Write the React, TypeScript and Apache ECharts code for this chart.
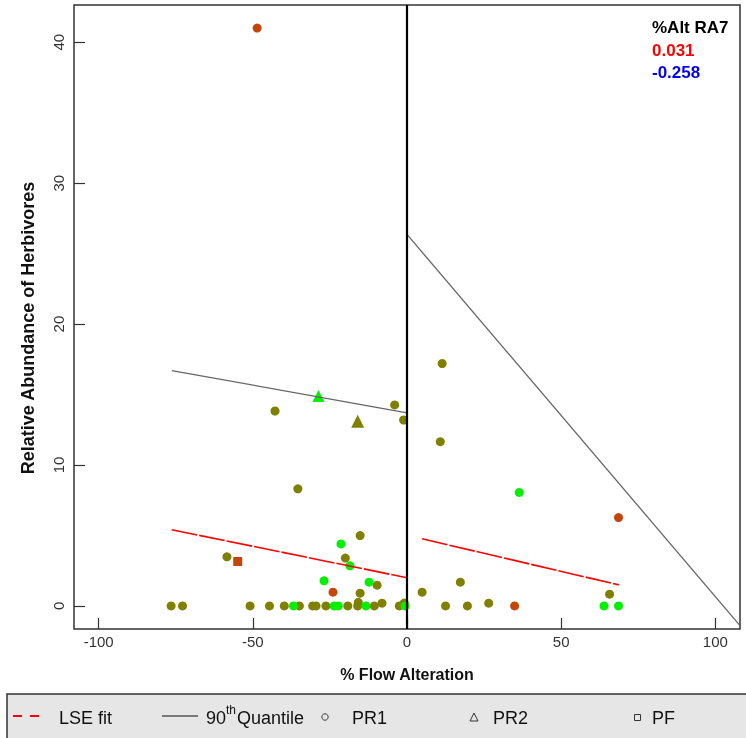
import React, { useEffect, useRef } from "react";
import * as echarts from "echarts";

// ---- data ----
const xRange = [-108, 108];
const yRange = [-1.64, 42.64];

const pr1Olive: [number, number][] = [
  [-42.8, 13.83], [-4.0, 14.26], [-1.1, 13.19], [-35.4, 8.31], [11.4, 17.2], [10.8, 11.65],
  [17.3, 1.68], [4.9, 0.97], [26.5, 0.19], [65.7, 0.83], [-58.4, 3.48], [-15.2, 4.99],
  [-20.0, 3.39], [-9.7, 1.47], [-15.2, 0.9], [-15.8, 0.25], [-8.1, 0.19], [-0.9, 0.2],
  [-76.5, 0], [-72.8, 0], [-50.9, 0], [-44.6, 0], [-39.8, 0], [-34.9, 0], [-30.6, 0],
  [-29.5, 0], [-26.3, 0], [-19.2, 0], [-16.0, 0], [-10.6, 0], [-2.5, 0], [12.5, 0], [19.6, 0],
];
const pr1Green: [number, number][] = [
  [-21.4, 4.4], [-18.5, 2.84], [-26.9, 1.78], [-12.3, 1.68], [36.4, 8.05],
  [-36.8, 0], [-23.6, 0], [-22.3, 0], [-13.3, 0], [-0.6, 0], [63.9, 0], [68.6, 0],
];
const pr1Orange: [number, number][] = [
  [-48.6, 41.0], [68.6, 6.27], [-24.0, 0.97], [34.9, 0],
];
const pr2Green: [number, number][] = [[-28.7, 14.9]];
const pr2Olive: [number, number][] = [[-16.0, 13.1]];
const pfOrange: [number, number][] = [[-54.9, 3.15]];

const lseLeft: [number, number][] = [[-76.3, 5.4], [0, 2.0]];
const lseRight: [number, number][] = [[4.9, 4.76], [68.7, 1.49]];
const q90Left: [number, number][] = [[-76.3, 16.7], [0, 13.7]];
const q90Right: [number, number][] = [[0, 26.36], [108, -1.4]];
const zeroLine: [number, number][] = [[0, yRange[0]], [0, yRange[1]]];

const statLabels = ["%Alt RA7", "0.031", "-0.258"];

const OLIVE = "#808000";
const GREEN = "#00f000";
const ORANGE = "#c4460a";
const FONT = '"Liberation Sans", Arial, sans-serif';

export default function App() {
  const ref = useRef<HTMLDivElement>(null);
  useEffect(() => {
    if (!ref.current) return;
    const chart = echarts.init(ref.current, null, { renderer: "svg" });
    const scatter = (data: [number, number][], color: string, symbol: string, size: number) => ({
      type: "scatter",
      data,
      symbol,
      symbolSize: size,
      itemStyle: { color, opacity: 1 },
      z: 2,
    });
    const line = (data: [number, number][], color: string, width: number, type: any) => ({
      type: "line",
      data,
      symbol: "none",
      lineStyle: { color, width, type },
      z: 3,
    });
    const legendY = 718;
    chart.setOption({
      animation: false,
      textStyle: { fontFamily: FONT },
      grid: {
        left: 74, top: 5, right: 6, bottom: 109,
        show: true, borderColor: "#333", borderWidth: 1.5, containLabel: false,
      },
      xAxis: {
        type: "value", min: xRange[0], max: xRange[1], splitNumber: 5,
        name: "% Flow Alteration", nameLocation: "middle", nameGap: 37,
        nameTextStyle: { fontSize: 16, fontWeight: "bold", color: "#111", fontFamily: FONT },
        axisLine: { show: false, onZero: false },
        axisTick: { show: true, inside: true, length: 11, lineStyle: { color: "#333", width: 1.2 } },
        axisLabel: { showMinLabel: false, showMaxLabel: false, fontSize: 15, color: "#333", margin: 5, fontFamily: FONT },
        splitLine: { show: false },
      },
      yAxis: {
        type: "value", min: yRange[0], max: yRange[1], splitNumber: 5,
        axisLine: { show: false, onZero: false },
        axisTick: { show: true, inside: true, length: 11, lineStyle: { color: "#333", width: 1.2 } },
        axisLabel: { showMinLabel: false, showMaxLabel: false, rotate: 90, fontSize: 15, color: "#333", margin: 8, fontFamily: FONT },
        splitLine: { show: false },
      },
      series: [
        scatter(pr1Olive, OLIVE, "circle", 9),
        scatter(pr1Green, GREEN, "circle", 9),
        scatter(pr1Orange, ORANGE, "circle", 9),
        scatter(pr2Green, GREEN, "triangle", 12),
        scatter(pr2Olive, OLIVE, "triangle", 13),
        scatter(pfOrange, ORANGE, "rect", 9),
        line(q90Left, "#666", 1.3, "solid"),
        line(q90Right, "#666", 1.3, "solid"),
        line(lseLeft, "#ff0000", 1.6, [26, 2]),
        line(lseRight, "#ff0000", 1.6, [26, 2]),
        line(zeroLine, "#000", 2.2, "solid"),
      ],
      graphic: [
        { type: "text", x: 28, y: 328, rotation: Math.PI / 2, style: { text: "Relative Abundance of Herbivores", fontSize: 18, fontWeight: "bold", fontFamily: FONT, fill: "#111", align: "center", verticalAlign: "middle" } },
        { type: "text", x: 652, y: 27, style: { text: statLabels[0], fontSize: 17, fontWeight: "bold", fontFamily: FONT, fill: "#000", verticalAlign: "middle" } },
        { type: "text", x: 652, y: 50, style: { text: statLabels[1], fontSize: 17, fontWeight: "bold", fontFamily: FONT, fill: "#ff0000", verticalAlign: "middle" } },
        { type: "text", x: 652, y: 72, style: { text: statLabels[2], fontSize: 17, fontWeight: "bold", fontFamily: FONT, fill: "#0000ff", verticalAlign: "middle" } },
        { type: "rect", shape: { x: 7, y: 694, width: 745, height: 50 }, style: { fill: "#e6e6e6", stroke: "#333", lineWidth: 1.5 } },
        { type: "line", shape: { x1: 13, y1: 716, x2: 41, y2: 716 }, style: { stroke: "#ff0000", lineWidth: 2, lineDash: [9, 8] } },
        { type: "text", x: 59, y: legendY, style: { text: "LSE fit", fontSize: 18, fontFamily: FONT, fill: "#111", verticalAlign: "middle" } },
        { type: "line", shape: { x1: 162, y1: 716, x2: 198, y2: 716 }, style: { stroke: "#555", lineWidth: 1.5 } },
        { type: "text", x: 206, y: legendY, style: { text: "90", fontSize: 18, fontFamily: FONT, fill: "#111", verticalAlign: "middle" } },
        { type: "text", x: 226, y: 710, style: { text: "th", fontSize: 12, fontFamily: FONT, fill: "#111", verticalAlign: "middle" } },
        { type: "text", x: 237, y: legendY, style: { text: "Quantile", fontSize: 18, fontFamily: FONT, fill: "#111", verticalAlign: "middle" } },
        { type: "circle", shape: { cx: 325, cy: 717, r: 3.2 }, style: { fill: "none", stroke: "#333", lineWidth: 1 } },
        { type: "text", x: 352, y: legendY, style: { text: "PR1", fontSize: 18, fontFamily: FONT, fill: "#111", verticalAlign: "middle" } },
        { type: "polygon", shape: { points: [[470, 721], [478, 721], [474, 713]] }, style: { fill: "none", stroke: "#333", lineWidth: 1 } },
        { type: "text", x: 493, y: legendY, style: { text: "PR2", fontSize: 18, fontFamily: FONT, fill: "#111", verticalAlign: "middle" } },
        { type: "rect", shape: { x: 634.5, y: 714.5, width: 6, height: 6 }, style: { fill: "none", stroke: "#333", lineWidth: 1 } },
        { type: "text", x: 652, y: legendY, style: { text: "PF", fontSize: 18, fontFamily: FONT, fill: "#111", verticalAlign: "middle" } },
      ],
    });
    return () => chart.dispose();
  }, []);
  return <div ref={ref} style={{ position: "fixed", left: 0, top: 0, width: 746, height: 738 }} />;
}
